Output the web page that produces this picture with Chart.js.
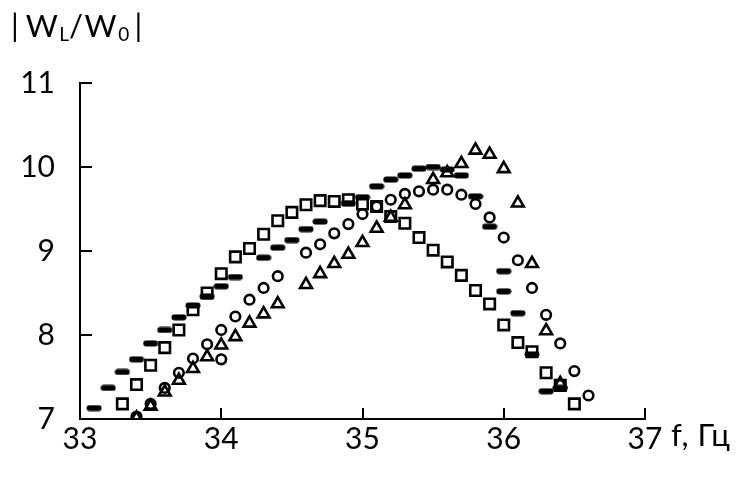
<!DOCTYPE html>
<html>
<head>
<meta charset="utf-8">
<script src="https://cdn.jsdelivr.net/npm/chart.js@4"></script>
<style>
  body { margin: 0; background: #fff; }
  #wrap { position: relative; width: 737px; height: 483px; font-family: Lato, sans-serif; color: #000; }
  #chart { position: absolute; left: 0; top: 0; }
  .lbl { position: absolute; font-size: 31px; line-height: 1; white-space: nowrap; letter-spacing: 1.5px; }
  .lbl sub { font-size: 19px; vertical-align: -4px; letter-spacing: 0; }
</style>
</head>
<body>
<div id="wrap">
  <canvas id="chart" width="737" height="483"></canvas>
  <div class="lbl" id="ytitle" style="left:11px; top:10px;">|&thinsp;W<sub>L</sub>/W<sub>0</sub>&thinsp;|</div>
  <div class="lbl" id="xtitle" style="left:671px; top:419px; letter-spacing: 0.5px;">f, Гц</div>
</div>
<script>
// квадраты
const xSquare = [33.3, 33.4, 33.5, 33.6, 33.7, 33.8, 33.9, 34.0, 34.1, 34.2, 34.3, 34.4, 34.5, 34.6, 34.7, 34.8, 34.9,
    35.0, 35.1, 35.2, 35.3, 35.4, 35.5, 35.6, 35.7, 35.8, 35.9, 36.0, 36.1, 36.2, 36.3, 36.4, 36.5];
const ySquare = [7.18, 7.41, 7.64, 7.85, 8.06, 8.30, 8.50, 8.73, 8.93, 9.03, 9.20, 9.36, 9.46, 9.55, 9.60, 9.59, 9.61,
    9.56, 9.53, 9.41, 9.33, 9.16, 9.01, 8.87, 8.71, 8.53, 8.37, 8.12, 7.91, 7.80, 7.55, 7.40, 7.18];

// черточки
const xDash = [33.1, 33.2, 33.3, 33.4, 33.5, 33.6, 33.7, 33.8, 33.9, 34.0, 34.1, 34.3, 34.4, 34.5, 34.6, 34.7, 34.9,
    35.0, 35.1, 35.2, 35.3, 35.4, 35.5, 35.6, 35.7, 35.8, 35.9, 36.0, 36.0, 36.1, 36.2, 36.3, 36.4];
const yDash = [7.13, 7.37, 7.56, 7.71, 7.90, 8.06, 8.21, 8.35, 8.46, 8.58, 8.69, 8.92, 9.04, 9.13, 9.26, 9.35, 9.57,
    9.64, 9.77, 9.85, 9.90, 9.98, 10.00, 9.97, 9.90, 9.65, 9.29, 8.76, 8.52, 8.26, 7.77, 7.33, 7.37];

// кружки
const xCircle = [33.4, 33.5, 33.6, 33.7, 33.8, 33.9, 34.0, 34.0, 34.1, 34.2, 34.3, 34.4, 34.6, 34.7, 34.8, 34.9,
    35.0, 35.1, 35.2, 35.3, 35.4, 35.5, 35.6, 35.7, 35.8, 35.9, 36.0, 36.1, 36.2, 36.3, 36.4, 36.5, 36.6];
const yCircle = [7.03, 7.18, 7.37, 7.55, 7.72, 7.89, 8.06, 7.71, 8.22, 8.42, 8.56, 8.70, 8.98, 9.08, 9.21, 9.32,
    9.44, 9.53, 9.61, 9.68, 9.71, 9.73, 9.73, 9.67, 9.56, 9.40, 9.16, 8.89, 8.56, 8.24, 7.90, 7.57, 7.28];

// треугольники
const xTriangle = [33.4, 33.5, 33.6, 33.7, 33.8, 33.9, 34.0, 34.1, 34.2, 34.3, 34.4, 34.6, 34.7, 34.8, 34.9,
    35.0, 35.1, 35.2, 35.3, 35.5, 35.6, 35.7, 35.8, 35.9, 36.0, 36.1, 36.2, 36.3, 36.4];
const yTriangle = [7.01, 7.15, 7.32, 7.46, 7.60, 7.74, 7.88, 7.98, 8.14, 8.25, 8.37, 8.60, 8.73, 8.85, 8.96,
    9.10, 9.27, 9.40, 9.55, 9.85, 9.93, 10.04, 10.20, 10.15, 9.98, 9.57, 8.85, 8.05, 7.42];

const xTicks = [33, 34, 35, 36, 37];
const yTicks = [7, 8, 9, 10, 11];

function toPoints(xs, ys) {
    return xs.map((x, i) => ({ x: x, y: ys[i] }));
}

// черточка с закругленными краями
function makeDash() {
    const c = document.createElement('canvas');
    c.width = 16;
    c.height = 7;
    const g = c.getContext('2d');
    g.fillStyle = '#000';
    g.beginPath();
    g.roundRect(0.5, 0.5, 15, 6, 3);
    g.fill();
    return c;
}

// засечки внутрь графика
const innerTicks = {
    id: 'innerTicks',
    afterDraw(chart) {
        const ctx = chart.ctx;
        const xs = chart.scales.x;
        const ys = chart.scales.y;
        const a = chart.chartArea;
        ctx.save();
        ctx.strokeStyle = '#000';
        ctx.lineWidth = 2;
        ctx.beginPath();
        xTicks.slice(1).forEach(v => {
            const px = Math.round(xs.getPixelForValue(v));
            ctx.moveTo(px, a.bottom);
            ctx.lineTo(px, a.bottom - 11);
        });
        yTicks.slice(1).forEach(v => {
            const py = Math.round(ys.getPixelForValue(v));
            ctx.moveTo(a.left, py);
            ctx.lineTo(a.left + 12, py);
        });
        ctx.stroke();
        ctx.restore();
    }
};

const base = {
    borderColor: '#000',
    backgroundColor: 'rgba(0,0,0,0)',
    borderWidth: 2.6,
    showLine: false
};

new Chart(document.getElementById('chart'), {
    type: 'scatter',
    data: {
        datasets: [
            Object.assign({ data: toPoints(xSquare, ySquare), pointStyle: 'rect', pointRadius: 7.4 }, base),
            Object.assign({ data: toPoints(xCircle, yCircle), pointStyle: 'circle', pointRadius: 4.8 }, base),
            Object.assign({ data: toPoints(xTriangle, yTriangle), pointStyle: 'triangle', pointRadius: 6.8 }, base),
            Object.assign({ data: toPoints(xDash, yDash), pointStyle: makeDash(), pointRadius: 7 }, base)
        ]
    },
    options: {
        responsive: false,
        animation: false,
        events: [],
        layout: { padding: { top: 83, right: 92, left: 0, bottom: 0 } },
        plugins: { legend: { display: false }, tooltip: { enabled: false } },
        scales: {
            x: {
                type: 'linear', min: 33, max: 37,
                afterFit: s => { s.height = 64; },
                afterBuildTicks: s => { s.ticks = xTicks.map(v => ({ value: v })); },
                grid: { display: false, drawTicks: false },
                border: { color: '#000', width: 2 },
                ticks: { color: '#000', padding: 2, font: { family: 'Lato', size: 30 } }
            },
            y: {
                type: 'linear', min: 7, max: 11,
                afterFit: s => { s.width = 80; },
                afterBuildTicks: s => { s.ticks = yTicks.map(v => ({ value: v })); },
                grid: { display: false, drawTicks: false },
                border: { color: '#000', width: 2 },
                ticks: { color: '#000', padding: 25, font: { family: 'Lato', size: 30 } }
            }
        }
    },
    plugins: [innerTicks]
});
</script>
</body>
</html>
